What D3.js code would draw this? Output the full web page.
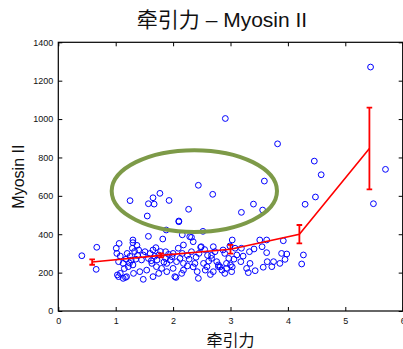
<!DOCTYPE html>
<html>
  <head>
    <meta charset="UTF-8" />
    <script src="https://cdn.jsdelivr.net/npm/d3@7"></script>
    <style>
      body { margin: 0; background: #fff; }
    </style>
  </head>
  <body>
    <svg></svg>
    <script>
      // 1. 基本准备
      const width = 403
      const height = 349
      const margin = { top: 42.3, bottom: 38, left: 58.3, right: 0.3 }
      const latin = 'Liberation Sans, Arial, Helvetica, sans-serif'
      const cjk = 'Liberation Sans, "Noto Sans CJK SC", sans-serif'

      // 2. data
      const xTicks = [0, 1, 2, 3, 4, 5, 6]
      const yTicks = [0, 200, 400, 600, 800, 1000, 1200, 1400]

      // scatter: 牵引力 vs Myosin II
      const force = [
        0.41, 0.67, 0.66, 1.01, 1.02, 1.06, 1.08, 1.05, 1.08, 1.05, 1.13, 1.19, 1.03, 1.17,
        1.30, 1.37, 1.29, 1.13, 1.22, 1.15, 1.31, 1.42, 1.48, 1.20, 1.25, 1.33, 1.27, 1.38,
        1.35, 1.40, 1.24, 1.18, 1.30, 1.57, 1.82, 2.29, 2.35, 2.49, 2.70, 2.18, 2.32, 1.65,
        1.51, 1.45, 1.57, 1.63, 1.71, 1.80, 1.54, 1.65, 1.89, 1.87, 1.98, 2.06, 2.12, 2.18,
        2.00, 2.03, 2.18, 2.38, 2.44, 2.53, 2.59, 2.56, 2.67, 2.76, 2.79, 2.09, 2.00, 2.16,
        1.87, 1.75, 1.48, 1.72, 1.75, 1.89, 2.15, 2.05, 3.03, 3.51, 3.63, 3.92, 3.55, 3.41,
        3.33, 3.63, 3.22, 3.11, 3.18, 3.34, 3.89, 3.98, 4.27, 4.24, 3.95, 3.86, 3.75, 3.64,
        3.57, 3.72, 3.28, 3.31, 3.43, 2.79, 2.82, 2.93, 3.00, 3.06, 2.97, 2.93, 3.02, 3.03,
        2.90, 2.87, 2.90, 3.19, 3.08, 2.73, 2.85, 2.99, 2.67, 2.48, 2.10, 2.32, 1.60, 1.68,
        1.78, 1.92, 1.95, 1.62, 1.84, 1.70, 2.25, 2.28, 2.40, 2.45, 2.60, 2.55, 2.62, 2.35,
        2.25, 2.42, 2.70, 2.65, 1.25, 1.57, 1.67, 1.65, 1.77, 1.93, 1.55, 2.27, 2.10, 2.44,
        2.69, 1.88, 2.16, 2.52, 1.30, 3.19, 3.40, 3.56, 3.59, 4.30, 4.48, 4.46, 4.58, 5.70,
        5.49, 2.91, 3.82, 5.44
      ]
      const myosin = [
        288, 332, 217, 327, 300, 352, 286, 257, 196, 179, 170, 179, 188, 175,
        356, 342, 327, 248, 231, 221, 196, 205, 165, 300, 285, 310, 265, 290,
        270, 318, 250, 270, 240, 389, 375, 387, 361, 335, 335, 344, 309, 318,
        309, 266, 274, 248, 231, 222, 213, 179, 248, 274, 283, 257, 274, 248,
        222, 179, 213, 248, 170, 248, 231, 213, 274, 257, 231, 327, 300, 300,
        309, 292, 292, 266, 196, 205, 196, 175, 370, 370, 370, 366, 335, 323,
        309, 304, 286, 292, 257, 248, 300, 297, 292, 245, 269, 248, 257, 257,
        228, 231, 222, 200, 210, 240, 230, 248, 240, 270, 274, 222, 205, 230,
        196, 318, 300, 327, 327, 309, 213, 339, 290, 332, 465, 384, 300, 285,
        310, 295, 265, 262, 255, 330, 290, 270, 280, 300, 290, 320, 260, 230,
        235, 205, 205, 190, 575, 559, 557, 590, 613, 576, 495, 530, 469, 655,
        608, 422, 397, 415, 370, 514, 557, 526, 677, 556, 594, 781, 710, 738,
        559, 1003, 871, 1271
      ]

      // binned means with error bars
      const binX = [0.59, 1.79, 3.0, 4.2, 5.42]
      const binMean = [255, 290, 322, 400, 847]
      const binErr = [14, 10, 23, 48, 213]

      // highlight ellipse (data units)
      const ellipseCx = 2.37
      const ellipseCy = 625
      const ellipseRx = 1.44
      const ellipseRy = 213

      // 3. 画布
      const svg = d3
        .select('svg')
        .attr('width', width)
        .attr('height', height)
        .attr('viewBox', [0, 0, width, height])

      const x = d3.scaleLinear([0, 6], [margin.left, width - margin.right])
      const y = d3.scaleLinear([0, 1400], [height - margin.bottom, margin.top])

      // 4. axes (ticks inside, box)
      const styleAxis = (g) => {
        g.select('.domain').remove()
        g.selectAll('.tick line').attr('stroke', '#000').attr('stroke-width', 1)
        g.selectAll('.tick text')
          .attr('fill', '#111')
          .style('font', `9px ${latin}`)
      }

      svg
        .append('g')
        .attr('transform', `translate(0,${y(0)})`)
        .call(d3.axisBottom(x).tickValues(xTicks).tickFormat(d3.format('d')).tickSizeInner(-4).tickSizeOuter(0).tickPadding(7))
        .call(styleAxis)

      svg
        .append('g')
        .attr('transform', `translate(${x(0)},0)`)
        .call(d3.axisLeft(y).tickValues(yTicks).tickFormat(d3.format('d')).tickSizeInner(-4).tickSizeOuter(0).tickPadding(5))
        .call(styleAxis)

      svg
        .append('g')
        .attr('transform', `translate(0,${y(1400)})`)
        .call(d3.axisTop(x).tickValues(xTicks).tickFormat('').tickSizeInner(-4).tickSizeOuter(0))
        .call(styleAxis)

      svg
        .append('g')
        .attr('transform', `translate(${x(6)},0)`)
        .call(d3.axisRight(y).tickValues(yTicks).tickFormat('').tickSizeInner(-4).tickSizeOuter(0))
        .call(styleAxis)

      svg
        .append('rect')
        .attr('x', x(0))
        .attr('y', y(1400))
        .attr('width', x(6) - x(0))
        .attr('height', y(0) - y(1400))
        .attr('fill', 'none')
        .attr('stroke', '#000')
        .attr('stroke-width', 1.2)

      // 5. scatter
      const pts = d3.zip(force, myosin)
      svg
        .append('g')
        .attr('fill', 'none')
        .attr('stroke', '#0000ff')
        .attr('stroke-width', 1)
        .selectAll('circle')
        .data(pts)
        .join('circle')
        .attr('cx', (d) => x(d[0]))
        .attr('cy', (d) => y(d[1]))
        .attr('r', 2.9)

      // 6. mean line + error bars
      const bins = binX.map((v, i) => ({ x: v, m: binMean[i], e: binErr[i] }))
      const red = svg.append('g').attr('stroke', '#ff0000').attr('fill', 'none')

      red
        .append('path')
        .attr('stroke-width', 1.6)
        .attr('d', d3.line().x((d) => x(d.x)).y((d) => y(d.m))(bins))

      const cap = 2.8
      red
        .selectAll('path.err')
        .data(bins)
        .join('path')
        .attr('class', 'err')
        .attr('stroke-width', 1.8)
        .attr('d', (d) => {
          const cx = x(d.x)
          const t = y(d.m + d.e)
          const b = y(d.m - d.e)
          return `M${cx},${t}V${b}M${cx - cap},${t}H${cx + cap}M${cx - cap},${b}H${cx + cap}`
        })

      // 7. ellipse annotation
      svg
        .append('ellipse')
        .attr('cx', x(ellipseCx))
        .attr('cy', y(ellipseCy))
        .attr('rx', x(ellipseCx + ellipseRx) - x(ellipseCx))
        .attr('ry', y(ellipseCy) - y(ellipseCy + ellipseRy))
        .attr('fill', 'none')
        .attr('stroke', '#7d9a48')
        .attr('stroke-width', 4)

      // 8. titles
      svg
        .append('text')
        .attr('x', 222)
        .attr('y', 27)
        .attr('text-anchor', 'middle')
        .style('font', `21px ${cjk}`)
        .attr('fill', '#111')
        .text('牵引力 – Myosin II')

      svg
        .append('text')
        .attr('x', (x(0) + x(6)) / 2)
        .attr('y', 346)
        .attr('text-anchor', 'middle')
        .style('font', `16px ${cjk}`)
        .attr('fill', '#111')
        .text('牵引力')

      svg
        .append('text')
        .attr('transform', `translate(24,${(y(0) + y(1400)) / 2}) rotate(-90)`)
        .attr('text-anchor', 'middle')
        .style('font', `16px ${latin}`)
        .attr('fill', '#111')
        .text('Myosin II')
    </script>
  </body>
</html>
